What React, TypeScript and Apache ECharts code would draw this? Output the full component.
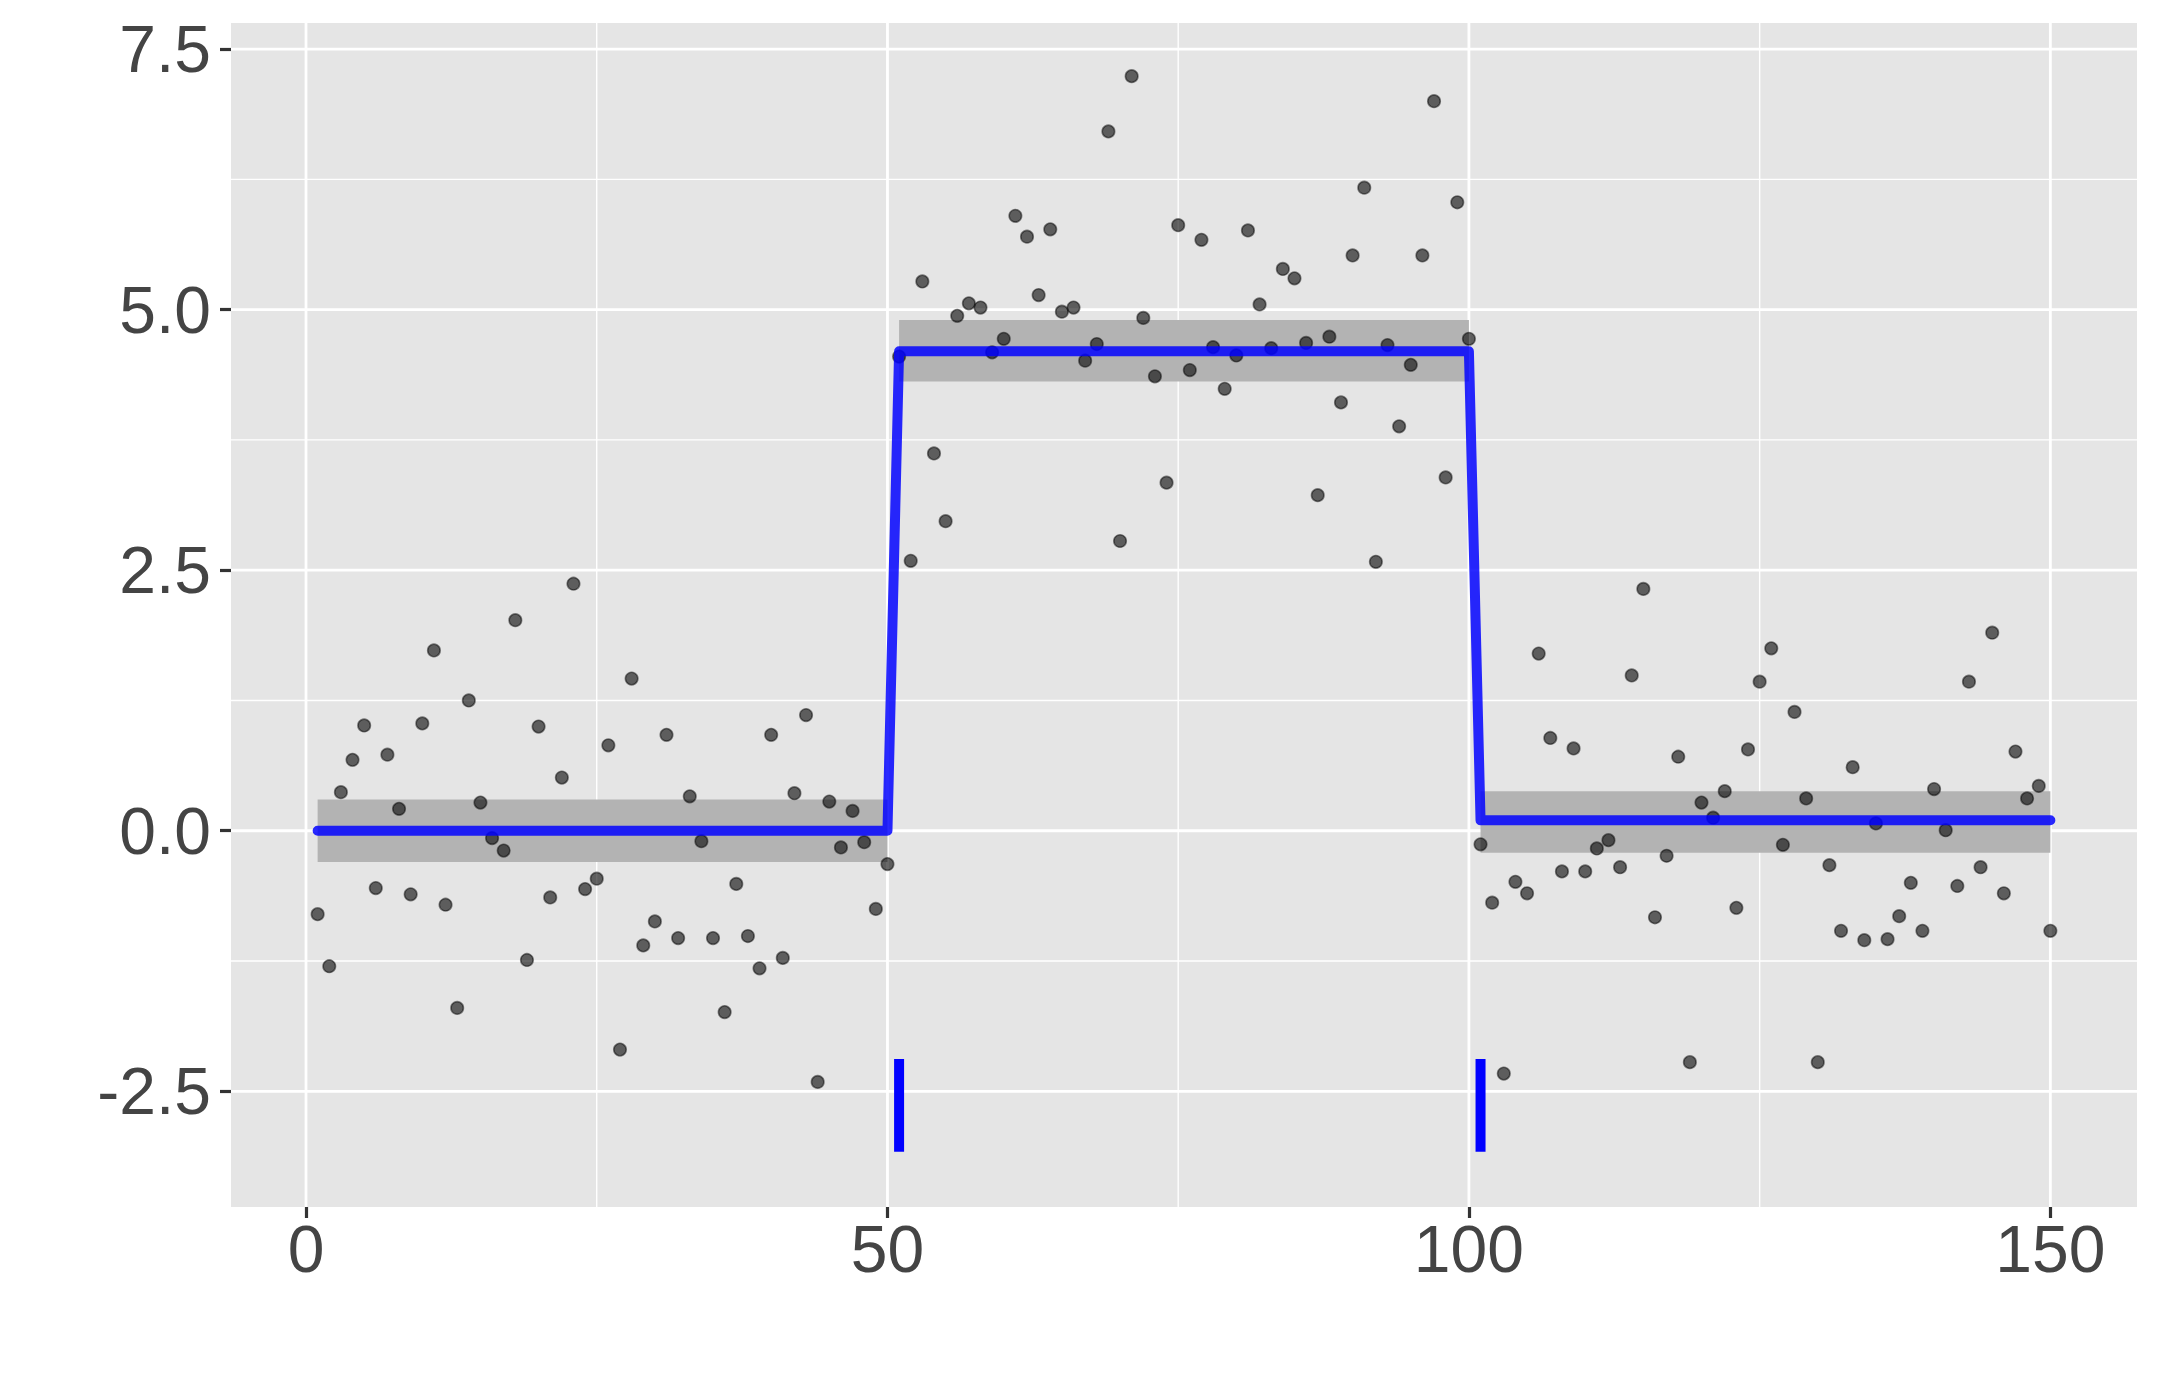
import React, { useEffect, useRef } from 'react';
import * as echarts from 'echarts';

// Observed values, one per index 1..150
const yValues = [
  -0.80, -1.30, 0.37, 0.68, 1.01, -0.55, 0.73, 0.21, -0.61, 1.03,
  1.73, -0.71, -1.70, 1.25, 0.27, -0.07, -0.19, 2.02, -1.24, 1.00,
  -0.64, 0.51, 2.37, -0.56, -0.46, 0.82, -2.10, 1.46, -1.10, -0.87,
  0.92, -1.03, 0.33, -0.10, -1.03, -1.74, -0.51, -1.01, -1.32, 0.92,
  -1.22, 0.36, 1.11, -2.41, 0.28, -0.16, 0.19, -0.11, -0.75, -0.32,
  4.55, 2.59, 5.27, 3.62, 2.97, 4.94, 5.06, 5.02, 4.59, 4.72,
  5.90, 5.70, 5.14, 5.77, 4.98, 5.02, 4.51, 4.67, 6.71, 2.78,
  7.24, 4.92, 4.36, 3.34, 5.81, 4.42, 5.67, 4.64, 4.24, 4.56,
  5.76, 5.05, 4.63, 5.39, 5.30, 4.68, 3.22, 4.74, 4.11, 5.52,
  6.17, 2.58, 4.66, 3.88, 4.47, 5.52, 7.00, 3.39, 6.03, 4.72,
  -0.13, -0.69, -2.33, -0.49, -0.60, 1.70, 0.89, -0.39, 0.79, -0.39,
  -0.17, -0.09, -0.35, 1.49, 2.32, -0.83, -0.24, 0.71, -2.22, 0.27,
  0.125, 0.38, -0.74, 0.78, 1.43, 1.75, -0.135, 1.14, 0.31, -2.22,
  -0.33, -0.96, 0.61, -1.05, 0.07, -1.04, -0.82, -0.50, -0.96, 0.40,
  0.005, -0.53, 1.43, -0.35, 1.90, -0.60, 0.76, 0.31, 0.43, -0.96,
];

// Fitted segments
const segStart = [1, 51, 101];
const segEnd = [50, 100, 150];
const segMean = [0.0, 4.6, 0.1];
const ribbonLow = [-0.3, 4.31, -0.21];
const ribbonHigh = [0.3, 4.9, 0.38];

// Change-point markers
const changePoints = [51, 101];
const changeMarkLow = -3.08;
const changeMarkHigh = -2.19;

// Axes
const xTicks = [0, 50, 100, 150];
const xMinor = [25, 75, 125];
const yTicks = [-2.5, 0, 2.5, 5, 7.5];
const yMinor = [-1.25, 1.25, 3.75, 6.25];

const FONT = '"Liberation Sans", Arial, Helvetica, sans-serif';
const MAJOR_W = 2.8;
const MINOR_W = 1.4;

export default function App() {
  const ref = useRef<HTMLDivElement>(null);

  useEffect(() => {
    if (!ref.current) return;
    const chart = echarts.init(ref.current, undefined, { renderer: 'svg' });

    const pointData = yValues.map((v, i) => [i + 1, v]);
    const lineData: number[][] = [];
    segStart.forEach((s, i) => {
      lineData.push([s, segMean[i]]);
      lineData.push([segEnd[i], segMean[i]]);
    });
    const ribbonData = segStart.map((s, i) => [s, segEnd[i], ribbonLow[i], ribbonHigh[i]]);
    const markData = changePoints.map((x) => [x, changeMarkLow, changeMarkHigh]);

    // [orientation (0 = vertical at x, 1 = horizontal at y), value, width]
    const gridData = [
      ...xMinor.map((v) => [0, v, MINOR_W]),
      ...yMinor.map((v) => [1, v, MINOR_W]),
      ...xTicks.map((v) => [0, v, MAJOR_W]),
      ...yTicks.map((v) => [1, v, MAJOR_W]),
    ];

    const option: any = {
      animation: false,
      grid: {
        left: 231,
        right: 23,
        top: 23,
        bottom: 179,
        show: true,
        backgroundColor: '#e5e5e5',
        borderWidth: 0,
      },
      xAxis: {
        type: 'value',
        min: -6.45,
        max: 157.45,
        axisLine: { show: false, onZero: false },
        splitLine: { show: false },
        axisTick: {
          show: true,
          customValues: xTicks,
          length: 11,
          lineStyle: { color: '#333333', width: 3.2 },
        },
        axisLabel: {
          customValues: xTicks,
          fontSize: 66,
          color: '#444444',
          fontFamily: FONT,
          margin: 9,
          formatter: (v: number) => String(v),
        },
      },
      yAxis: {
        type: 'value',
        min: -3.61,
        max: 7.75,
        axisLine: { show: false, onZero: false },
        splitLine: { show: false },
        axisTick: {
          show: true,
          customValues: yTicks,
          length: 11,
          lineStyle: { color: '#333333', width: 3.2 },
        },
        axisLabel: {
          customValues: yTicks,
          fontSize: 66,
          color: '#444444',
          fontFamily: FONT,
          margin: 20,
          formatter: (v: number) => v.toFixed(1),
        },
      },
      series: [
        {
          type: 'custom',
          z: 0,
          silent: true,
          data: gridData,
          encode: { x: -1, y: -1 },
          renderItem: (params: any, api: any) => {
            const cs = params.coordSys;
            const orient = api.value(0);
            const val = api.value(1);
            const w = api.value(2);
            if (orient === 0) {
              const px = api.coord([val, 0])[0];
              return {
                type: 'line',
                shape: { x1: px, y1: cs.y, x2: px, y2: cs.y + cs.height },
                style: { stroke: '#ffffff', lineWidth: w },
              };
            }
            const py = api.coord([0, val])[1];
            return {
              type: 'line',
              shape: { x1: cs.x, y1: py, x2: cs.x + cs.width, y2: py },
              style: { stroke: '#ffffff', lineWidth: w },
            };
          },
        },
        {
          type: 'custom',
          z: 1,
          silent: true,
          data: ribbonData,
          encode: { x: [0, 1], y: [2, 3] },
          renderItem: (params: any, api: any) => {
            const p1 = api.coord([api.value(0), api.value(3)]);
            const p2 = api.coord([api.value(1), api.value(2)]);
            return {
              type: 'rect',
              shape: { x: p1[0], y: p1[1], width: p2[0] - p1[0], height: p2[1] - p1[1] },
              style: { fill: '#b3b3b3' },
            };
          },
        },
        {
          type: 'scatter',
          z: 2,
          data: pointData,
          symbol: 'circle',
          symbolSize: 12.5,
          itemStyle: {
            color: 'rgba(0,0,0,0.74)',
            borderColor: 'rgba(0,0,0,0.6)',
            borderWidth: 1.6,
          },
        },
        {
          type: 'line',
          z: 3,
          data: lineData,
          showSymbol: false,
          symbol: 'none',
          lineStyle: { color: 'rgba(0,0,255,0.84)', width: 10, cap: 'round', join: 'round' },
        },
        {
          type: 'custom',
          z: 4,
          silent: true,
          data: markData,
          encode: { x: 0, y: [1, 2] },
          renderItem: (params: any, api: any) => {
            const p1 = api.coord([api.value(0), api.value(1)]);
            const p2 = api.coord([api.value(0), api.value(2)]);
            return {
              type: 'line',
              shape: { x1: p1[0], y1: p1[1], x2: p2[0], y2: p2[1] },
              style: { stroke: '#0000ff', lineWidth: 10 },
            };
          },
        },
      ],
    };

    chart.setOption(option);
    return () => chart.dispose();
  }, []);

  return (
    <div
      ref={ref}
      style={{ position: 'absolute', left: 0, top: 0, width: 2160, height: 1386, background: '#ffffff' }}
    />
  );
}
